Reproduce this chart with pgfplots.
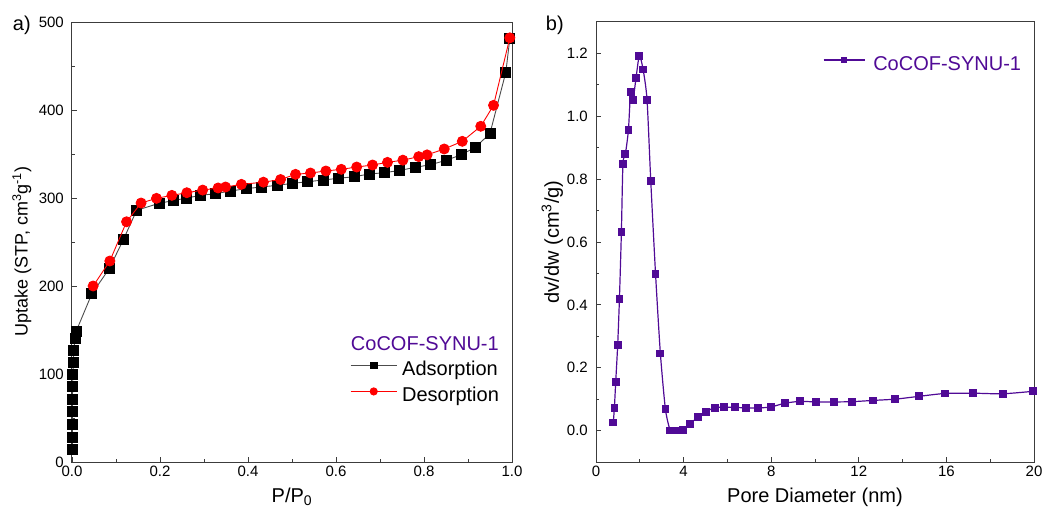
\documentclass[border=0pt]{standalone}
\usepackage{pgfplots}
\pgfplotsset{compat=1.18}
\usepackage{fontspec}
\setmainfont{Liberation Sans}
\definecolor{cofpurple}{RGB}{80,10,150}
\definecolor{axgray}{RGB}{60,60,60}

\pgfplotstableread{
P V
0.001 14
0.001 28
0.001 43
0.001 57
0.001 71
0.0015 86
0.002 99
0.003 113
0.004 127
0.007 140
0.009 148
0.045 191
0.085 220
0.117 253
0.147 286
0.198 294
0.230 297
0.261 300
0.292 303
0.327 305
0.361 308
0.396 310.6
0.430 312.5
0.466 314.4
0.502 316.7
0.536 318.5
0.571 320.5
0.606 322.4
0.641 324.2
0.676 327.3
0.711 328.8
0.745 331.4
0.781 334.9
0.815 337.9
0.850 342.8
0.885 349.2
0.918 358
0.950 373.5
0.986 443
0.995 481
}\adsorption

\pgfplotstableread{
P V
0.048 200
0.086 228.4
0.124 273
0.157 294.3
0.192 299.6
0.227 303
0.261 306
0.297 309
0.332 311.4
0.349 312.5
0.385 315.5
0.435 318
0.474 321
0.508 326.9
0.542 328.4
0.577 330.7
0.612 332.6
0.647 335.2
0.683 337.5
0.717 340.5
0.752 343
0.788 347
0.807 349
0.846 355.7
0.887 364.4
0.929 381.5
0.958 405.3
0.995 482
}\desorption

\pgfplotstableread{
D v
0.79 0.026
0.84 0.073
0.90 0.155
0.99 0.272
1.07 0.419
1.16 0.633
1.23 0.849
1.34 0.879
1.48 0.956
1.58 1.077
1.69 1.053
1.83 1.123
1.98 1.193
2.15 1.149
2.33 1.053
2.50 0.795
2.72 0.497
2.94 0.245
3.17 0.068
3.39 0.000
3.56 0.000
3.71 0.000
3.97 0.003
4.31 0.022
4.66 0.044
5.02 0.060
5.42 0.073
5.86 0.074
6.33 0.074
6.84 0.072
7.40 0.072
7.98 0.075
8.62 0.087
9.32 0.093
10.06 0.091
10.85 0.091
11.70 0.092
12.66 0.096
13.67 0.100
14.76 0.109
15.92 0.118
17.20 0.119
18.57 0.117
19.97 0.125
}\psd

\pgfplotsset{
  longleg/.style={legend image code/.code={\draw[mark repeat=2,mark phase=2,##1] plot coordinates {(0pt,5pt)(23pt,5pt)(46pt,5pt)};}},
  shortleg/.style={legend image code/.code={\draw[mark repeat=2,mark phase=2,##1] plot coordinates {(0pt,5pt)(20.5pt,5pt)(41pt,5pt)};}},
  common/.style={
    scale only axis,
    anchor=south west,
    axis line style={axgray, line width=1pt},
    tick align=inside,
    xtick pos=bottom,
    ytick pos=left,
    major tick length=5pt,
    minor tick length=3pt,
    tick style={axgray, line width=0.9pt},
    /pgf/number format/assume math mode=true,
    tick label style={font=\fontsize{15}{18}\selectfont, inner sep=0pt},
    xticklabel style={yshift=-4pt},
    yticklabel style={xshift=-8pt},
    label style={font=\fontsize{20}{24}\selectfont},
    clip mode=individual,
  }
}

\begin{document}
\begin{tikzpicture}
\useasboundingbox (0pt,0pt) rectangle (1047pt,515pt);

\begin{axis}[common,
  at={(72pt,53pt)}, width=440pt, height=440pt,
  xmin=0, xmax=1, ymin=0, ymax=500,
  xtick={0,0.2,0.4,0.6,0.8,1.0},
  ytick={0,100,200,300,400,500},
  minor x tick num=1, minor y tick num=1,
  xticklabel style={/pgf/number format/.cd, fixed, fixed zerofill, precision=1},
  xlabel={P/P\textsubscript{0}},
  ylabel={Uptake (STP, cm\textsuperscript{3}g\textsuperscript{-1})},
  xlabel style={at={(axis description cs:0.5,-0.05)}, anchor=north},
  ylabel style={at={(axis description cs:-0.114,0.478)}, anchor=center, font=\fontsize{18}{22}\selectfont},
  legend style={at={(rel axis cs:0.632,0.229)}, anchor=north west, draw=none, fill=none,
    font=\fontsize{20}{24}\selectfont, inner sep=0pt, row sep=8pt,
    nodes={inner sep=0pt, text height=14pt, text depth=4pt},
    /tikz/every odd column/.append style={column sep=5pt}},
  legend cell align=left,
]
\addplot[color=black!70, line width=0.9pt, mark=square*, mark size=5pt,
  mark options={black, fill=black, solid}, longleg,
  legend image post style={mark size=3.3pt}]
  table[x=P,y=V] {\adsorption};
\addlegendentry{Adsorption}
\addplot[color=red, line width=0.9pt, mark=*, mark size=5pt,
  mark options={red, fill=red, solid}, longleg,
  legend image post style={mark size=3.6pt}]
  table[x=P,y=V] {\desorption};
\addlegendentry{Desorption}
\node[text=cofpurple, font=\fontsize{20}{24}\selectfont, anchor=center] at (rel axis cs:0.802,0.268) {CoCOF-SYNU-1};
\node[font=\fontsize{20}{24}\selectfont, anchor=center] at (rel axis cs:-0.114,0.993) {a)};
\end{axis}

\begin{axis}[common,
  at={(596pt,53pt)}, width=438pt, height=440pt,
  xmin=0, xmax=20, ymin=-0.1, ymax=1.3,
  xtick={0,4,8,12,16,20},
  ytick={0,0.2,0.4,0.6,0.8,1.0,1.2},
  minor x tick num=1, minor y tick num=1,
  yticklabel style={/pgf/number format/.cd, fixed, fixed zerofill, precision=1},
  xlabel={Pore Diameter (nm)},
  ylabel={dv/dw (cm\textsuperscript{3}/g)},
  xlabel style={at={(axis description cs:0.5,-0.05)}, anchor=north},
  ylabel style={at={(axis description cs:-0.1,0.5)}, anchor=center},
  legend style={at={(rel axis cs:0.518,0.923)}, anchor=north west, draw=none, fill=none,
    font=\fontsize{20}{24}\selectfont, inner sep=0pt,
    nodes={inner sep=0pt, text height=14pt, text depth=4pt, text=cofpurple},
    /tikz/every odd column/.append style={column sep=8pt}},
]
\addplot[color=cofpurple, line width=1.2pt, smooth, tension=0.4, mark=square*, mark size=3.3pt,
  mark options={cofpurple, fill=cofpurple, solid}, shortleg,
  legend image post style={mark size=2.5pt}]
  table[x=D,y=v] {\psd};
\addlegendentry{CoCOF-SYNU-1}
\node[font=\fontsize{20}{24}\selectfont, anchor=center] at (rel axis cs:-0.094,0.993) {b)};
\end{axis}
\end{tikzpicture}
\end{document}
